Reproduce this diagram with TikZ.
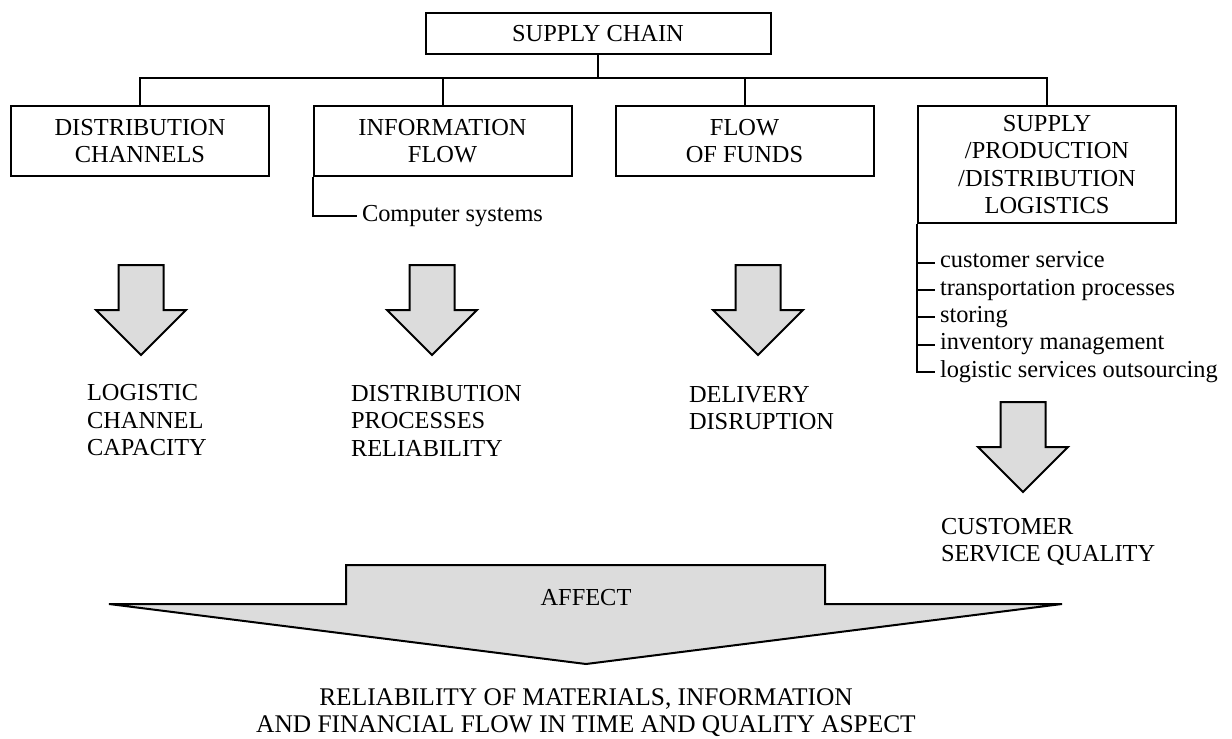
\documentclass[tikz,border=0pt]{standalone}
\usepackage{fontspec}
\setmainfont{Liberation Serif}
\usepackage{xcolor}
\usepackage{tikz}
\definecolor{arrowgray}{HTML}{DCDCDC}

\begin{document}
\begin{tikzpicture}[x=0.5pt, y=-0.5pt, line width=1pt,
		every node/.style={font=\fontsize{12.2}{13.75}\selectfont},
		box/.style={draw, minimum width=129pt, minimum height=35pt, align=center, inner sep=0pt},
		result/.style={anchor=west, align=left, inner sep=0pt},
		listitem/.style={anchor=west, inner xsep=2pt, inner ysep=0pt, text height=0.7em, text depth=0.2em},
		bigarrow/.style={draw, fill=arrowgray}]
		\useasboundingbox (0,0) rectangle (1232,739);
		\node[box, minimum width=172.5pt, minimum height=20.5pt] (chain) at (598,33.5) {SUPPLY CHAIN};
		\node[box] (channels) at (140,141) {DISTRIBUTION\\CHANNELS};
		\node[box] (info) at (442.5,141) {INFORMATION\\FLOW};
		\node[box] (funds) at (744.5,141) {FLOW\\OF FUNDS};
		\node[box, minimum height=58.5pt] (logistics) at (1047,164.5) {SUPPLY\\/PRODUCTION\\/DISTRIBUTION\\LOGISTICS};
		\coordinate (bus) at (598,78);
		\draw (chain.south) -- (bus);
		\draw (channels.north) -- (channels.north |- bus) -- (logistics.north |- bus) -- (logistics.north);
		\foreach \n in {info,funds}
			\draw (\n.north) -- (\n.north |- bus);
		
		\node[listitem] (cs) at (357,216) {Computer systems};
		\draw (info.south west) |- (cs.west);
		
		\foreach \t [count=\i] in {customer service, transportation processes, storing, inventory management, logistic services outsourcing}
			\node[listitem] (l\i) at (935,235.5+27.3*\i) {\t};
		\draw (logistics.south west) |- (l5.west);
		\foreach \i in {1,...,4}
			\draw (logistics.south west |- l\i.west) -- (l\i.west);
		
		\foreach \x/\y in {141/265, 432/265, 758/265, 1023/402}
			\draw[bigarrow] (\x-22.5,\y) -- (\x+22.5,\y) -- (\x+22.5,\y+45) -- (\x+45,\y+45)
				-- (\x,\y+90) -- (\x-45,\y+45) -- (\x-22.5,\y+45) -- cycle;
		
		\node[result] (capacity) at (86,420.5) {LOGISTIC\\CHANNEL\\CAPACITY};
		\node[result] (reliability) at (350,420.5) {DISTRIBUTION\\PROCESSES\\RELIABILITY};
		\node[result] (disruption) at (688,408) {DELIVERY\\DISRUPTION};
		\node[result] (quality) at (940,542) {CUSTOMER\\SERVICE QUALITY};
		
		\draw[bigarrow] (109,604) -- (346,604) -- (346,565) -- (825,565) -- (825,604) -- (1062,604) -- (586,664) -- cycle;
		\node (affect) at (586,598) {AFFECT};
		\node[align=center, font=\fontsize{12.7}{13.75}\selectfont] (aspect) at (586,712.5) {RELIABILITY OF MATERIALS, INFORMATION\\AND FINANCIAL FLOW IN TIME AND QUALITY ASPECT};
	\end{tikzpicture}
\end{document}
